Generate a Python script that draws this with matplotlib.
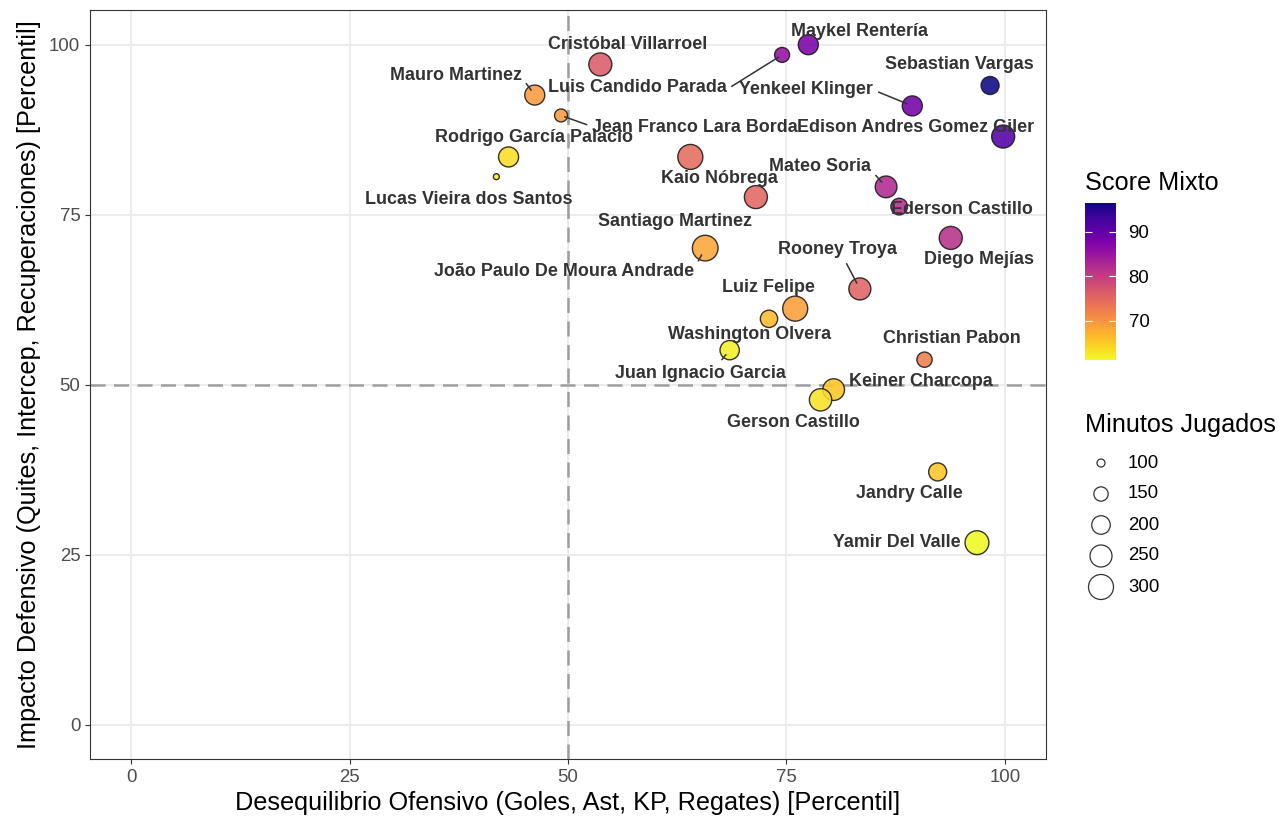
import numpy as np
import matplotlib.pyplot as plt
from matplotlib.colors import Normalize

plt.rcParams['font.family'] = ['Liberation Sans', 'DejaVu Sans']

# --- data ---
players = [
    "Sebastian Vargas", "Edison Andres Gomez Giler", "Maykel Rentería",
    "Yenkeel Klinger", "Luis Candido Parada", "Mateo Soria", "Ederson Castillo",
    "Diego Mejías", "Cristóbal Villarroel", "Rooney Troya", "Santiago Martinez",
    "Kaio Nóbrega", "Christian Pabon", "Mauro Martinez", "Jean Franco Lara Borda",
    "Luiz Felipe", "João Paulo De Moura Andrade", "Washington Olvera",
    "Jandry Calle", "Keiner Charcopa", "Rodrigo García Palacio", "Gerson Castillo",
    "Lucas Vieira dos Santos", "Juan Ignacio Garcia", "Yamir Del Valle",
]
ofensivo = [98.3, 99.8, 77.5, 89.4, 74.5, 86.4, 87.9, 93.8, 53.7, 83.4, 71.5,
            64.0, 90.8, 46.2, 49.2, 76.0, 65.7, 73.0, 92.3, 80.4, 43.2, 78.9,
            41.8, 68.5, 96.8]
defensivo = [94.0, 86.5, 100.0, 91.0, 98.5, 79.1, 76.2, 71.6, 97.1, 64.1, 77.6,
             83.5, 53.7, 92.6, 89.6, 61.2, 70.1, 59.7, 37.2, 49.3, 83.5, 47.8,
             80.6, 55.1, 26.8]
score = [96.5, 91.5, 88.0, 88.5, 85.5, 82.5, 82.0, 81.5, 76.5, 75.5, 75.0,
         74.5, 72.5, 69.5, 69.5, 69.0, 68.5, 66.5, 65.5, 65.5, 63.5, 63.0,
         62.0, 62.0, 61.2]
minutos = [193, 266, 220, 220, 157, 245, 176, 266, 266, 250, 266,
           300, 160, 220, 137, 300, 312, 184, 193, 245, 220, 255,
           90, 210, 280]

legend_minutes = [100, 150, 200, 250, 300]
score_ticks = [70, 80, 90]

# label placement: pixel offset of the label centre from its point (y down),
# and where on the label a connecting segment starts (None = no segment)
label_layout = {
    "Maykel Rentería": (51, -13, None),
    "Luis Candido Parada": (-145, 33, (1.0, 0.4)),
    "Cristóbal Villarroel": (27, -20, None),
    "Mauro Martinez": (-79, -20, (1.0, 0.35)),
    "Jean Franco Lara Borda": (134, 12, (0.0, 0.55)),
    "Rodrigo García Palacio": (25, -19, None),
    "Lucas Vieira dos Santos": (-28, 23, None),
    "Sebastian Vargas": (-31, -21, None),
    "Yenkeel Klinger": (-106, -16, (1.0, 0.5)),
    "Edison Andres Gomez Giler": (-88, -9, None),
    "Kaio Nóbrega": (29, 22, None),
    "Mateo Soria": (-66, -20, (1.0, 0.3)),
    "Ederson Castillo": (63, 3, None),
    "Santiago Martinez": (-81, 24, None),
    "João Paulo De Moura Andrade": (-141, 23, (1.0, 0.65)),
    "Diego Mejías": (28, 22, None),
    "Rooney Troya": (-22, -39, (0.55, 0.0)),
    "Luiz Felipe": (-27, -21, None),
    "Washington Olvera": (-19, 16, None),
    "Juan Ignacio Garcia": (-29, 23, (0.6, 1.0)),
    "Christian Pabon": (27, -21, None),
    "Keiner Charcopa": (87, -8, None),
    "Gerson Castillo": (-27, 23, None),
    "Jandry Calle": (-28, 22, None),
    "Yamir Del Valle": (-80, 0, None),
}

PX = 0.72  # points per pixel at dpi 100
W, H = 1278, 819


def size_of(m):
    """Marker area (pt^2) for minutes played."""
    d_px = np.sqrt(64 + (np.asarray(m, dtype=float) - 100) * 2.805)
    return (d_px * PX) ** 2


def main():
    fig = plt.figure(figsize=(W / 100, H / 100), dpi=100)
    ax = fig.add_axes([90 / W, 1 - 759 / H, (1046 - 90) / W, (759 - 10) / H])

    norm = Normalize(vmin=min(score), vmax=max(score))
    cmap = plt.get_cmap("plasma_r")

    # grid / reference lines
    ax.set_xlim(-4.7, 104.7)
    ax.set_ylim(-5.0, 105.1)
    ticks = [0, 25, 50, 75, 100]
    ax.set_xticks(ticks)
    ax.set_yticks(ticks)
    ax.grid(True, color="#ebebeb", linewidth=1.3, zorder=0)
    ax.set_axisbelow(True)
    ax.axvline(50, color="#9e9e9e", linewidth=1.8, dashes=(6.0, 3.4), zorder=1)
    ax.axhline(50, color="#9e9e9e", linewidth=1.8, dashes=(6.0, 3.4), zorder=1)

    sc = ax.scatter(ofensivo, defensivo, s=size_of(minutos), c=score, cmap=cmap,
                    norm=norm, edgecolors="#1a1a1a", linewidths=1.0,
                    alpha=0.88, zorder=3)

    # labels
    for name, x, y, m in zip(players, ofensivo, defensivo, minutos):
        dx, dy, rel = label_layout[name]
        r_pt = np.sqrt(size_of(m)) / 2
        arrow = None
        if rel is not None:
            arrow = dict(arrowstyle="-", color="#333333", lw=1.1, relpos=rel,
                         shrinkA=2, shrinkB=0.6 * r_pt)
        ax.annotate(name, (x, y), xytext=(dx * PX, -dy * PX),
                    textcoords="offset points", ha="center", va="center",
                    fontsize=12.9, fontweight="bold", color="#333333",
                    arrowprops=arrow, zorder=4)

    for sp in ax.spines.values():
        sp.set_color("#333333")
        sp.set_linewidth(0.8)
    ax.tick_params(colors="#333333", labelcolor="#4d4d4d", labelsize=13.4,
                   length=3.5, width=0.8)
    ax.set_xlabel("Desequilibrio Ofensivo (Goles, Ast, KP, Regates) [Percentil]",
                  fontsize=18.2, labelpad=4)
    ax.set_ylabel("Impacto Defensivo (Quites, Intercep, Recuperaciones) [Percentil]",
                  fontsize=18.2, labelpad=6)

    # colour legend
    cax = fig.add_axes([1085 / W, 1 - 360 / H, 31 / W, 157 / H])
    cb = fig.colorbar(sc, cax=cax, ticks=score_ticks)
    cb.solids.set_alpha(1)
    cb.outline.set_visible(False)
    cax.tick_params(direction="in", color="white", length=5, width=0.8,
                    left=True, right=True, labelleft=False, labelright=True,
                    labelsize=13.4, pad=9)
    fig.text(1085 / W, 1 - 190 / H, "Score Mixto", fontsize=18.2,
             va="baseline", ha="left")

    # size legend
    lax = fig.add_axes([0, 0, 1, 1], zorder=-1)
    lax.set_xlim(0, W)
    lax.set_ylim(H, 0)
    lax.axis("off")
    fig.text(1085 / W, 1 - 432 / H, "Minutos Jugados", fontsize=18.2,
             va="baseline", ha="left")
    ys = [463 + 31 * i for i in range(len(legend_minutes))]
    lax.scatter([1101] * len(legend_minutes), ys, s=size_of(legend_minutes),
                facecolors="white", edgecolors="#333333", linewidths=0.9)
    for v, yy in zip(legend_minutes, ys):
        lax.text(1128, yy, str(v), fontsize=13.4, va="center", ha="left")

    fig.savefig("out.png", dpi=100)
    plt.close(fig)


if __name__ == "__main__":
    main()
